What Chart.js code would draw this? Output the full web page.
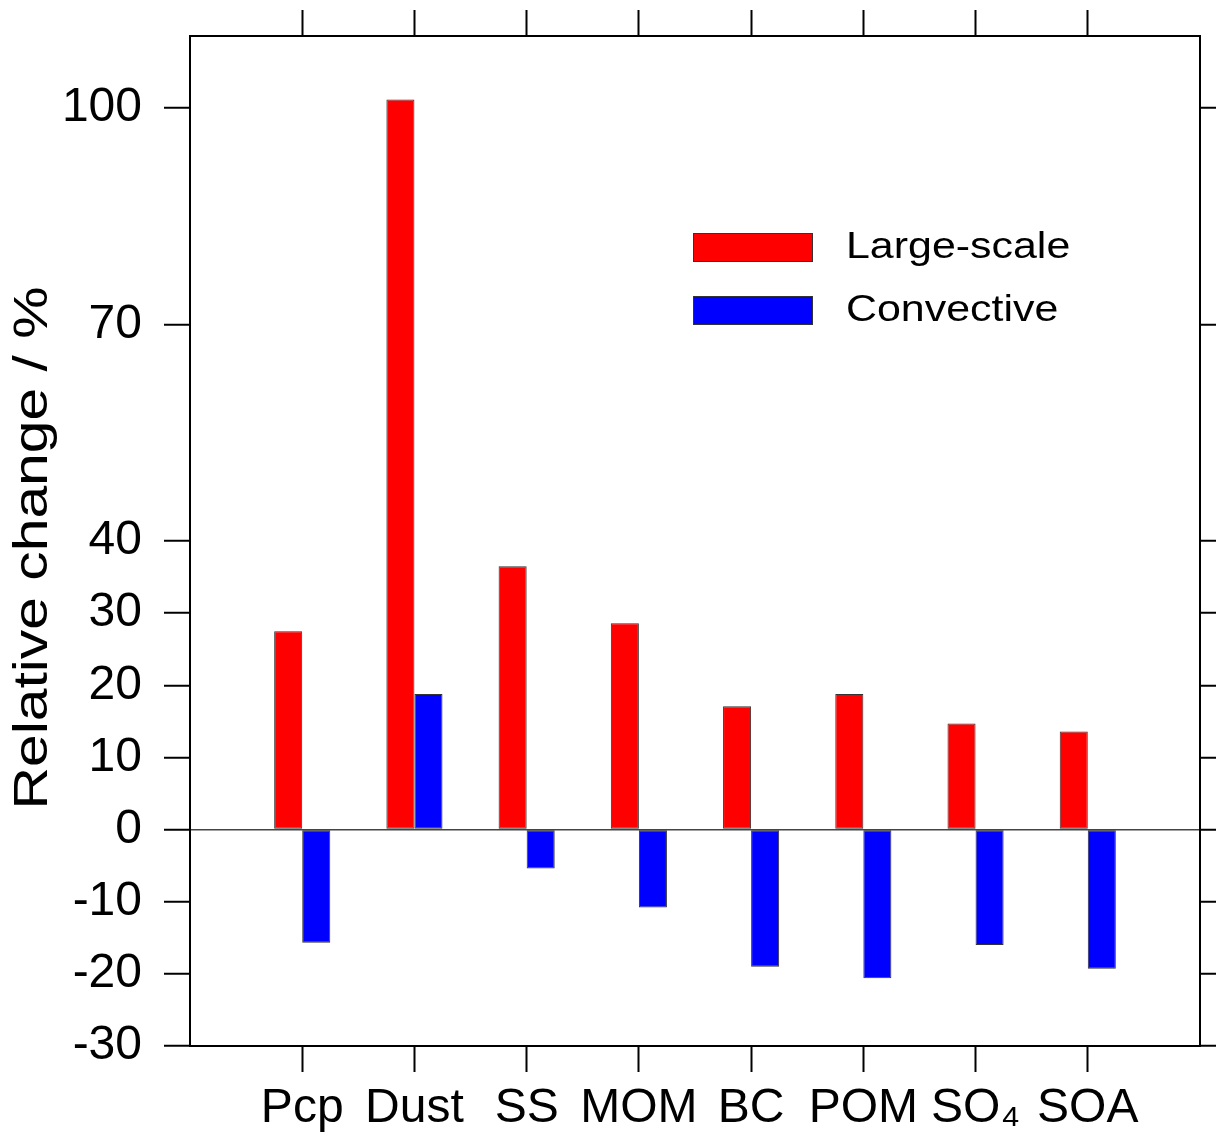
<!DOCTYPE html>
<html>
<head>
<meta charset="utf-8">
<script src="https://cdn.jsdelivr.net/npm/chart.js@4.4.1/dist/chart.umd.min.js"></script>
<style>
  html, body { margin: 0; padding: 0; background: #fff; }
  canvas { display: block; }
</style>
</head>
<body>
<canvas id="chart" width="1216" height="1132"></canvas>
<script>
const categories = ["Pcp", "Dust", "SS", "MOM", "BC", "POM", "SO₄", "SOA"];
const largeScale = [27.5, 101.2, 36.5, 28.6, 17.1, 18.8, 14.7, 13.6];
const convective = [-15.7, 18.8, -5.4, -10.8, -19.0, -20.6, -16.0, -19.3];
const yTicks = [-30, -20, -10, 0, 10, 20, 30, 40, 70, 100];
const seriesNames = ["Large-scale", "Convective"];
const seriesColors = ["#ff0000", "#0000ff"];
const yTitle = "Relative change / %";

const FONT = "'Liberation Sans', Arial, sans-serif";
Chart.defaults.font.family = FONT;
Chart.defaults.color = "#000";

function yAxis(position) {
  const left = position === "left";
  return {
    type: "linear",
    position: position,
    min: -30,
    max: 110,
    afterBuildTicks: (s) => {
      s.ticks = yTicks.map((v) => ({ value: v }));
    },
    afterFit: (s) => {
      s.width = left ? 190 : 16;
      // labels never sit at the ends, so no extra room above/below
      s.paddingTop = 0;
      s.paddingBottom = 0;
    },
    border: { display: true, color: "#000", width: 2 },
    grid: {
      drawOnChartArea: left,
      // only the zero line shows inside the plot
      color: (c) => (c.tick && c.tick.value === 0 ? "#444" : "rgba(0,0,0,0)"),
      lineWidth: 1.5,
      tickColor: "#000",
      tickWidth: 2,
      tickLength: 26,
    },
    ticks: {
      display: left,
      autoSkip: false,
      padding: 22,
      color: "#000",
      font: { size: 48 },
    },
  };
}

function xAxis(position) {
  const bottom = position === "bottom";
  return {
    type: "linear",
    position: position,
    min: 0,
    max: categories.length + 1,
    offset: false,
    afterBuildTicks: (s) => {
      s.ticks = categories.map((c, i) => ({ value: i + 1 }));
    },
    afterFit: (s) => {
      s.height = bottom ? 86 : 36;
      s.paddingLeft = 0;
      s.paddingRight = 0;
    },
    border: { display: true, color: "#000", width: 2 },
    grid: {
      offset: false,
      drawOnChartArea: false,
      tickColor: "#000",
      tickWidth: 2,
      tickLength: 26,
    },
    ticks: {
      display: bottom,
      autoSkip: false,
      maxRotation: 0,
      minRotation: 0,
      padding: 8,
      color: "#000",
      font: { size: 48 },
      callback: (v, i) => categories[i],
    },
  };
}

// y title and legend: the original text is drawn a bit wider than Helvetica
const annotate = {
  id: "annotate",
  afterDraw(chart) {
    const ctx = chart.ctx;
    ctx.save();
    ctx.fillStyle = "#000";
    ctx.textBaseline = "middle";
    ctx.textAlign = "center";
    ctx.font = "49px " + FONT;
    ctx.translate(33, 548);
    ctx.rotate(-Math.PI / 2);
    ctx.scale(1.2, 1);
    ctx.fillText(yTitle, 0, 0);
    ctx.restore();

    const boxX = 693, boxW = 120, boxH = 29;
    const boxY = [233, 296];
    seriesNames.forEach((name, i) => {
      ctx.save();
      ctx.fillStyle = seriesColors[i];
      ctx.fillRect(boxX, boxY[i], boxW, boxH);
      ctx.strokeStyle = "#333";
      ctx.lineWidth = 1;
      ctx.strokeRect(boxX + 0.5, boxY[i] + 0.5, boxW - 1, boxH - 1);
      ctx.fillStyle = "#000";
      ctx.textAlign = "left";
      ctx.textBaseline = "middle";
      ctx.font = "37px " + FONT;
      ctx.translate(846, boxY[i] + boxH / 2);
      ctx.scale(1.16, 1);
      ctx.fillText(name, 0, 0);
      ctx.restore();
    });
  },
};

function toPoints(values) {
  return values.map((v, i) => ({ x: i + 1, y: v }));
}

new Chart(document.getElementById("chart"), {
  type: "bar",
  data: {
    datasets: [
      {
        label: seriesNames[0],
        data: toPoints(largeScale),
        backgroundColor: seriesColors[0],
        borderColor: "#333",
        borderWidth: 1,
        borderSkipped: false,
        xAxisID: "x",
        yAxisID: "y",
      },
      {
        label: seriesNames[1],
        data: toPoints(convective),
        backgroundColor: seriesColors[1],
        borderColor: "#333",
        borderWidth: 1,
        borderSkipped: false,
        xAxisID: "x",
        yAxisID: "y",
      },
    ],
  },
  options: {
    responsive: false,
    animation: false,
    devicePixelRatio: 1,
    categoryPercentage: 0.5,
    barPercentage: 1.0,
    layout: { padding: 0 },
    plugins: {
      legend: { display: false },
      tooltip: { enabled: false },
    },
    scales: {
      x: xAxis("bottom"),
      x2: xAxis("top"),
      y: yAxis("left"),
      y2: yAxis("right"),
    },
  },
  plugins: [annotate],
});
</script>
</body>
</html>
